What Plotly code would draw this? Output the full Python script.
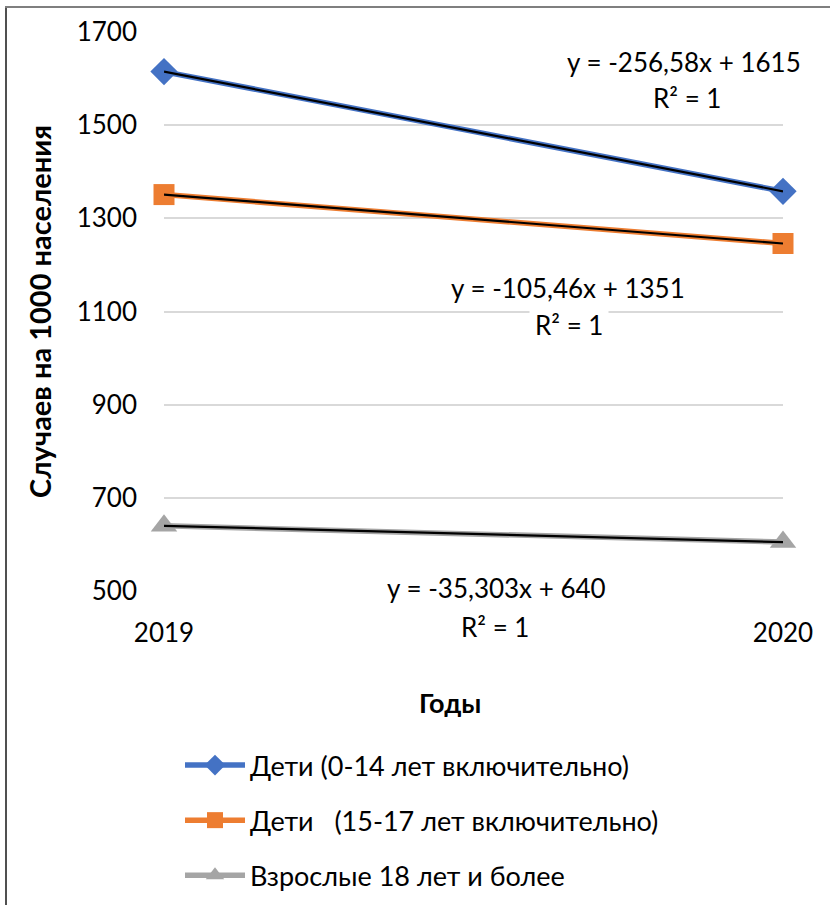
import plotly.graph_objects as go

years = ["2019", "2020"]
kids_0_14 = [1615, 1358]
kids_15_17 = [1351, 1246]
adults_18 = [640, 605]
series_names = [
    "Дети (0-14 лет включительно)",
    "Дети\u00a0\u00a0\u00a0(15-17 лет включительно)",
    "Взрослые 18 лет и более",
]
colors = ["#4472C4", "#ED7D31", "#A5A5A5"]
symbols = ["diamond", "square", "triangle-up"]
marker_sizes = [21, 21, 23]
equations = [
    ("y = -256,58x + 1615", "R² = 1"),
    ("y = -105,46x + 1351", "R² = 1"),
    ("y = -35,303x + 640", "R² = 1"),
]
y_ticks = [500, 700, 900, 1100, 1300, 1500, 1700]

W, H = 830, 905
L, R, T, B = 164, 783, 32, 591


def xp(px):
    return (px - L) / (R - L)


def yp(py):
    return (B - py) / (B - T)


FONT = "Lato, 'Open Sans', sans-serif"

fig = go.Figure()
all_series = [kids_0_14, kids_15_17, adults_18]
for i, vals in enumerate(all_series):
    fig.add_trace(go.Scatter(
        x=years, y=vals, name=series_names[i], mode="lines+markers",
        line=dict(color=colors[i], width=5.5),
        marker=dict(symbol=symbols[i], size=marker_sizes[i], color=colors[i]),
        legendgroup=f"g{i}", cliponaxis=False,
    ))
for i, vals in enumerate(all_series):
    fig.add_trace(go.Scatter(
        x=years, y=vals, mode="lines", showlegend=False, hoverinfo="skip",
        line=dict(color="black", width=2.2), cliponaxis=False,
    ))

# equation labels
eq_pos = [
    ((684, 62), (687, 98)),
    ((568, 288), (569, 325)),
    ((496, 588), (495, 627)),
]
for (l1, l2), ((x1, y1), (x2, y2)) in zip(equations, eq_pos):
    for txt, x, y in ((l1, x1, y1), (l2, x2, y2)):
        fig.add_annotation(
            text=txt, x=xp(x), y=yp(y), xref="paper", yref="paper",
            showarrow=False, xanchor="center", yanchor="middle",
            font=dict(family=FONT, size=26, color="#000"),
            bgcolor="white", borderpad=5,
        )

# x-axis title
fig.add_annotation(
    text="<b>Годы</b>", x=xp(450), y=yp(702), xref="paper", yref="paper",
    showarrow=False, xanchor="center", yanchor="middle",
    font=dict(family=FONT, size=27, color="#000"),
)

# chart border (left and top)
fig.add_shape(type="line", xref="paper", yref="paper",
              x0=xp(6), x1=xp(6), y0=yp(7), y1=yp(960),
              line=dict(color="#505050", width=2))
fig.add_shape(type="line", xref="paper", yref="paper",
              x0=xp(5), x1=xp(840), y0=yp(7), y1=yp(7),
              line=dict(color="#7f7f7f", width=2))

fig.update_layout(
    width=W, height=H,
    margin=dict(l=L, r=W - R, t=T, b=H - B, autoexpand=False),
    paper_bgcolor="white", plot_bgcolor="white",
    font=dict(family=FONT, size=26, color="#000"),
    showlegend=True,
    legend=dict(
        orientation="v", x=xp(180), y=yp(741), xanchor="left", yanchor="top",
        traceorder="grouped", tracegroupgap=17,
        font=dict(family=FONT, size=27, color="#000"),
        itemwidth=60, bgcolor="rgba(0,0,0,0)",
    ),
    xaxis=dict(
        type="category", range=[0, 1], showgrid=False, zeroline=False,
        showline=False, ticks="", ticklabelstandoff=24, automargin=False,
        tickfont=dict(family=FONT, size=26, color="#000"),
    ),
    yaxis=dict(
        range=[500, 1700], tickvals=y_ticks, showgrid=True,
        gridcolor="#D9D9D9", gridwidth=1.5, zeroline=False, showline=False,
        ticks="", ticklabelstandoff=26, automargin=False,
        tickfont=dict(family=FONT, size=26, color="#000"),
        title=dict(text="<b>Случаев на 1000 населения</b>", standoff=16,
                   font=dict(family=FONT, size=29, color="#000")),
    ),
)

fig.write_html("out.html")
